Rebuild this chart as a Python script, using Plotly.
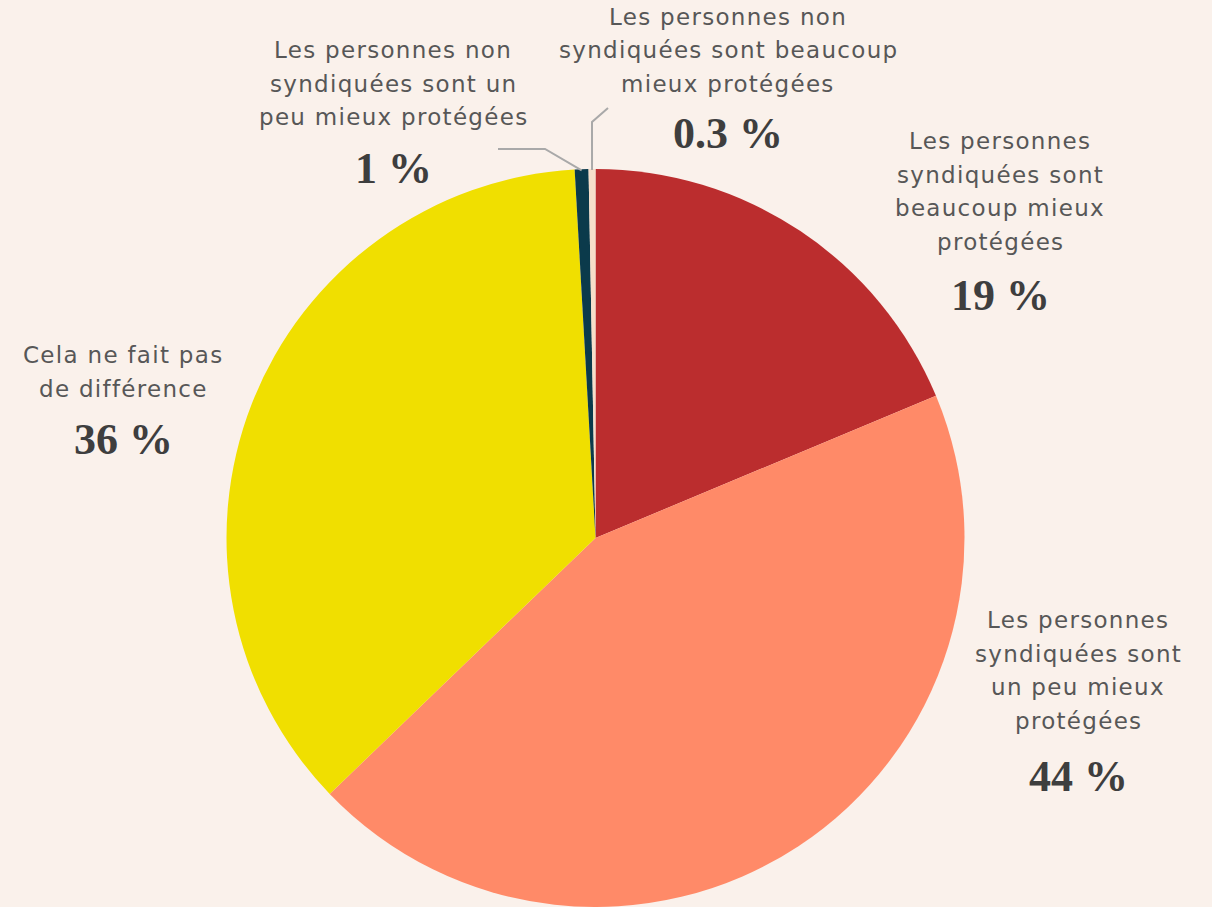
import math
import plotly.graph_objects as go

# ---- data ----
categories = [
    "Les personnes syndiquées sont beaucoup mieux protégées",
    "Les personnes syndiquées sont un peu mieux protégées",
    "Cela ne fait pas de différence",
    "Les personnes non syndiquées sont un peu mieux protégées",
    "Les personnes non syndiquées sont beaucoup mieux protégées",
]
values = [18.7, 44.1, 36.3, 0.6, 0.3]
value_labels = ["19 %", "44 %", "36 %", "1 %", "0.3 %"]
label_lines = [
    ["Les personnes", "syndiquées sont", "beaucoup mieux", "protégées"],
    ["Les personnes", "syndiquées sont", "un peu mieux", "protégées"],
    ["Cela ne fait pas", "de différence"],
    ["Les personnes non", "syndiquées sont un", "peu mieux protégées"],
    ["Les personnes non", "syndiquées sont beaucoup", "mieux protégées"],
]
colors = ["#BB2D2E", "#FF8A68", "#F0DF00", "#0B3A4B", "#F6DEC9"]

# ---- layout constants (pixels) ----
W, H = 1212, 907
BG = "#FAF1EB"
cx, cy, R = 595.5, 538.0, 369.0
# label block positions: (center x, first line y, percent y)
label_pos = [
    (1000, 141, 295),
    (1078, 620, 776),
    (123, 355, 440),
    (393, 50, 168),
    (728, 17, 133),
]
LINE_H = 33.5
# leader lines for small slices: list of (slice index, [elbow points])
leaders = {3: [(545, 149), (498, 149)], 4: [(592, 122), (608, 108)]}


def px(x, y):
    return x / W, 1 - y / H


fig = go.Figure(
    go.Pie(
        labels=categories,
        values=values,
        marker=dict(colors=colors, line=dict(width=0)),
        sort=False,
        direction="clockwise",
        rotation=0,
        textinfo="none",
        hoverinfo="label+value",
        domain=dict(x=[(cx - R) / W, (cx + R) / W], y=[0, (2 * R) / H]),
        showlegend=False,
    )
)

annotations = []
for lines, vlab, (lx, ly, py) in zip(label_lines, value_labels, label_pos):
    for i, t in enumerate(lines):
        x, y = px(lx, ly + i * LINE_H)
        annotations.append(dict(
            x=x, y=y, xref="paper", yref="paper",
            text='<span style="letter-spacing:1.3px">' + t + "</span>",
            showarrow=False, xanchor="center", yanchor="middle",
            font=dict(family="DejaVu Sans", size=23, color="#575757"),
        ))
    x, y = px(lx, py)
    annotations.append(dict(
        x=x, y=y, xref="paper", yref="paper", text="<b>" + vlab + "</b>", showarrow=False,
        xanchor="center", yanchor="middle",
        font=dict(family="Liberation Serif", size=44, color="#3E3E3E"),
    ))

shapes = []
total = sum(values)
for idx, pts in leaders.items():
    start = sum(values[:idx]) + values[idx] / 2
    ang = start / total * 2 * math.pi
    sx = cx + (R - 1) * math.sin(ang)
    sy = cy - (R - 1) * math.cos(ang)
    path_pts = [(sx, sy)] + pts
    path = ""
    for j, (x, y) in enumerate(path_pts):
        X, Y = px(x, y)
        path += ("M" if j == 0 else " L") + f" {X} {Y}"
    shapes.append(dict(type="path", path=path, xref="paper", yref="paper",
                       line=dict(color="#A9A9A9", width=2)))

fig.update_layout(
    width=W, height=H,
    margin=dict(l=0, r=0, t=0, b=0),
    paper_bgcolor=BG, plot_bgcolor=BG,
    annotations=annotations, shapes=shapes,
)

fig.write_html(
    "out.html",
    config={"displayModeBar": False},
    post_script="document.body.style.margin='0';document.body.style.overflow='hidden';"
    "document.body.style.background='" + BG + "';",
)
